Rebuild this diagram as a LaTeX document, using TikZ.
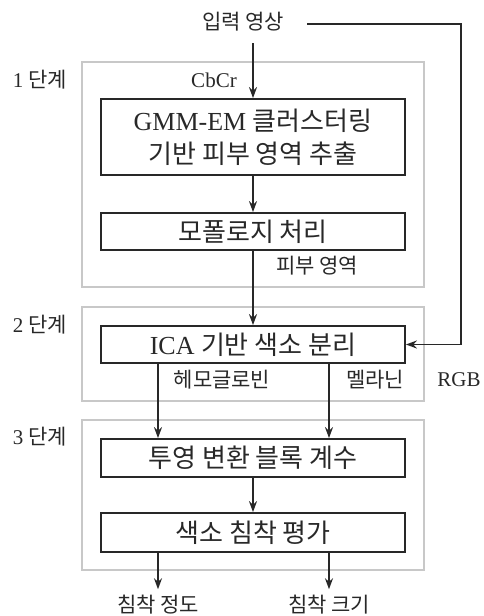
\documentclass[tikz,border=0pt]{standalone}
\usepackage{fontspec}
\setmainfont{Liberation Serif}
\newfontfamily\kr{Noto Sans CJK KR}
\usetikzlibrary{arrows.meta}
\definecolor{framegray}{RGB}{200,200,200}
\definecolor{ink}{RGB}{40,40,40}
\begin{document}
\begin{tikzpicture}[x=1pt,y=-1pt,
  stage/.style={draw=framegray,line width=2.6pt,minimum width=342pt,inner sep=0pt},
  proc/.style={draw=ink,line width=1.8pt,minimum width=304pt,inner sep=0pt,align=center,
    font=\fontsize{26}{33}\selectfont,text=ink},
  lab/.style={font=\fontsize{21}{24}\selectfont,text=ink,inner sep=0pt},
  arr/.style={draw=ink,line width=1.8pt,-{Stealth[length=11pt,width=8pt]}},
  line/.style={draw=ink,line width=1.8pt}]
\useasboundingbox (0,0) rectangle (483,616);
% stage frames
\node[stage,minimum height=225pt] (s1) at (253,174.5) {};
\node[stage,minimum height=94pt] (s2) at (253,354) {};
\node[stage,minimum height=150pt] (s3) at (253,495) {};
% process boxes
\node[proc,minimum height=76pt] (b1) at (253,137) {GMM-EM {\kr 클러스터링}\\{\kr 기반 피부 영역 추출}};
\node[proc,minimum height=37pt] (b2) at (253,231.5) {\kr 모폴로지 처리};
\node[proc,minimum height=37pt] (b3) at (253,344.5) {ICA {\kr 기반 색소 분리}};
\node[proc,minimum height=38pt] (b4) at (253,458) {\kr 투영 변환 블록 계수};
\node[proc,minimum height=39pt] (b5) at (253,532.5) {\kr 색소 침착 평가};
% texts
\node[lab] (in) at (243,22) {\kr 입력 영상};
\node[lab] (o1) at (158,605) {\kr 침착 정도};
\node[lab] (o2) at (329,605) {\kr 침착 크기};
\node[lab] (l1) at (40,80) {1 {\kr 단계}};
\node[lab] (l2) at (40,325) {2 {\kr 단계}};
\node[lab] (l3) at (40,437) {3 {\kr 단계}};
\node[lab] (cbcr) at (214,80) {CbCr};
\node[lab] (skin) at (317,266) {\kr 피부 영역};
\node[lab] (hemo) at (222,380) {\kr 헤모글로빈};
\node[lab] (mel) at (375,380) {\kr 멜라닌};
\node[lab] (rgb) at (459,380) {RGB};
% helper coordinates
\coordinate (top) at (253,43);
\coordinate (c1) at (461,24);
\coordinate (xl) at (158,0);
\coordinate (xr) at (329,0);
% connectors
\draw[arr] (top) -- (b1.north);
\draw[arr] (b1.south) -- (b2.north);
\draw[arr] (b2.south) -- (b3.north);
\draw[arr] ([xshift=23pt]in.east |- c1) -- (c1) |- (b3.east);
\draw[arr] (b3.south -| xl) -- (b4.north -| xl);
\draw[arr] (b3.south -| xr) -- (b4.north -| xr);
\draw[arr] (b4.south) -- (b5.north);
\draw[arr] (b5.south -| xl) -- ([yshift=6pt]o1.north);
\draw[arr] (b5.south -| xr) -- ([yshift=6pt]o2.north);
\end{tikzpicture}
\end{document}
